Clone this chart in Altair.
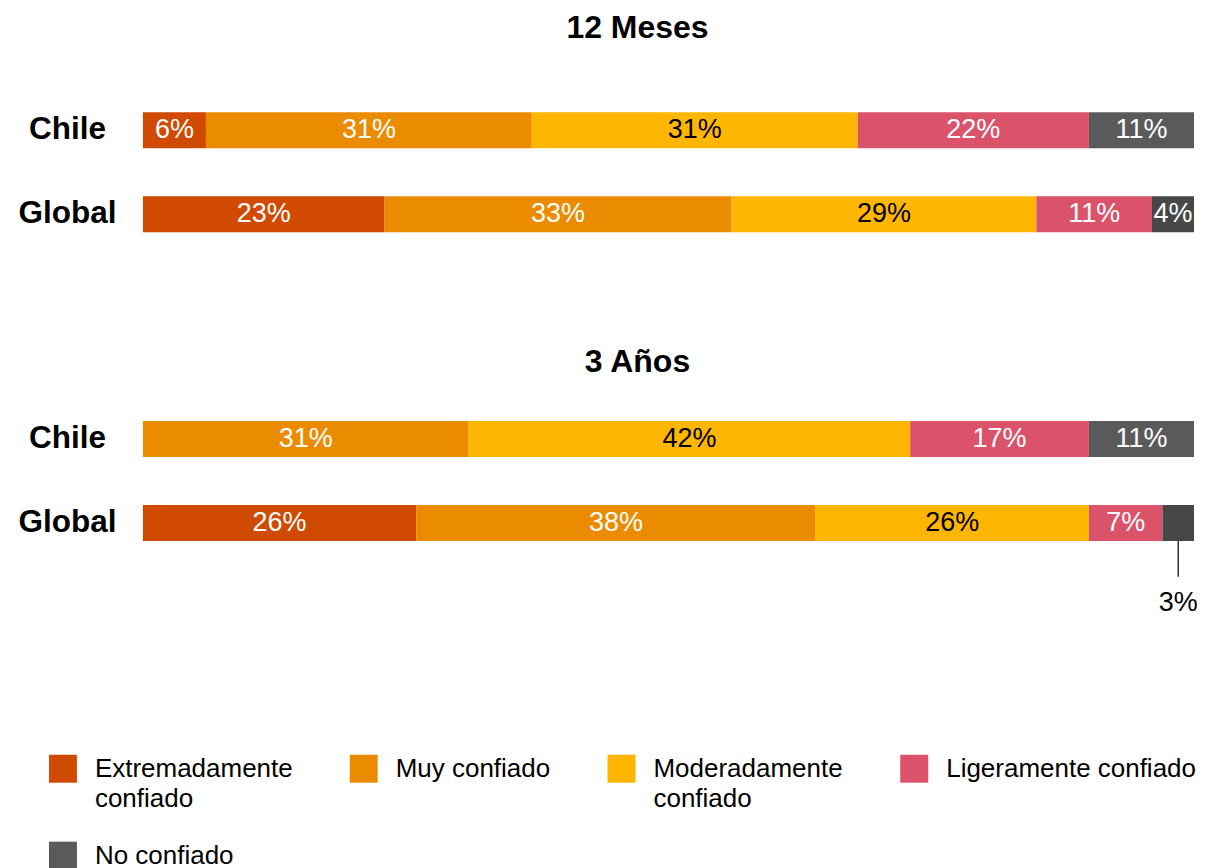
import altair as alt
import pandas as pd

# ---- data ----
categories = ["Extremadamente confiado", "Muy confiado", "Moderadamente confiado",
              "Ligeramente confiado", "No confiado"]
colors = ["#D04A02", "#EB8C00", "#FFB600", "#DB536A", "#5A5A5A"]
global_gray = "#474747"
regions = ["Chile", "Global"]
periods = ["12 Meses", "3 Años"]

meses12_chile = [6, 31, 31, 22, 11]
meses12_global = [23, 33, 29, 11, 4]
anos3_chile = [0, 31, 42, 17, 11]
anos3_global = [26, 38, 26, 7, 3]

series = {
    ("12 Meses", "Chile"): meses12_chile,
    ("12 Meses", "Global"): meses12_global,
    ("3 Años", "Chile"): anos3_chile,
    ("3 Años", "Global"): anos3_global,
}

GLOBAL_NO = "No confiado (Global)"
keys = categories + [GLOBAL_NO]
key_colors = colors + [global_gray]

rows = []
for (period, region), vals in series.items():
    start = 0
    for i, (cat, v) in enumerate(zip(categories, vals)):
        end = start + v
        key = GLOBAL_NO if (region == "Global" and cat == "No confiado") else cat
        rows.append(dict(period=period, region=region, cat=cat, key=key, order=i,
                         value=v, x0=start, x1=end,
                         mid=(start + min(end, 100)) / 2,
                         label=f"{v}%"))
        start = end
df = pd.DataFrame(rows)

FONT = "Liberation Sans"

LABEL_EXPR = (
    "indexof(['Extremadamente confiado', 'Moderadamente confiado'], datum.label) >= 0 "
    "? split(datum.label, ' ') "
    ": (datum.label == 'No confiado' ? datum.label : [datum.label, ''])"
)


def panel(period, with_legend, title_offset):
    d = df[df.period == period]
    base = alt.Chart(d)
    y = alt.Y("region:N", sort=regions,
              scale=alt.Scale(paddingInner=0.571, paddingOuter=0.286),
              axis=alt.Axis(title=None, domain=False, ticks=False, labelFontSize=31.5,
                            labelFontWeight="bold", labelAlign="center", labelPadding=76,
                            labelColor="black", labelFont=FONT))
    legend = alt.Legend(
        title=None, orient="none", legendX=-94, legendY=667, direction="horizontal",
        columns=4, symbolType="square", symbolSize=784, symbolStrokeWidth=0,
        symbolOpacity=1, labelFontSize=26, labelFont=FONT, labelColor="black",
        labelLimit=0, columnPadding=57, rowPadding=30, labelOffset=18,
        values=categories, labelExpr=LABEL_EXPR,
    ) if with_legend else None
    color_kwargs = dict(scale=alt.Scale(domain=keys, range=key_colors))
    if legend is not None:
        color_kwargs["legend"] = legend
    bars = base.mark_bar().encode(
        x=alt.X("x0:Q", scale=alt.Scale(domain=[0, 100], clamp=True, nice=False), axis=None),
        x2="x1:Q",
        y=y,
        color=alt.Color("key:N", **color_kwargs),
    )
    inside = base.transform_filter("datum.value >= 4").mark_text(
        font=FONT, fontSize=27).encode(
        x=alt.X("mid:Q"),
        y=alt.Y("region:N", sort=regions),
        text="label:N",
        color=alt.condition(alt.datum.cat == "Moderadamente confiado",
                            alt.value("black"), alt.value("white")),
    )
    layers = [bars, inside]
    small = d[(d.value > 0) & (d.value < 4)]
    if len(small):
        sb = alt.Chart(small)
        rule = sb.mark_rule(color="#333333", strokeWidth=1.5, yOffset=18, y2Offset=54).encode(
            x="mid:Q", y=alt.Y("region:N", sort=regions), y2="region:N")
        txt = sb.mark_text(font=FONT, fontSize=27, color="black", yOffset=80).encode(
            x="mid:Q", y=alt.Y("region:N", sort=regions), text="label:N")
        layers += [rule, txt]
    return alt.layer(*layers).properties(
        width=1052, height=168,
        title=alt.TitleParams(text=period, fontSize=32, fontWeight="bold", font=FONT,
                              anchor="middle", dx=-31, offset=title_offset, color="black"),
    )


chart = alt.vconcat(panel("12 Meses", False, 43), panel("3 Años", True, 18), spacing=88).properties(
    padding={"left": 9, "top": 3, "right": 0, "bottom": 0}
).configure(
    view={"stroke": "transparent"},
    style={"guide-label": {"lineHeight": 30}},
)

chart.save("out.html", embed_options={"renderer": "svg", "actions": False})
